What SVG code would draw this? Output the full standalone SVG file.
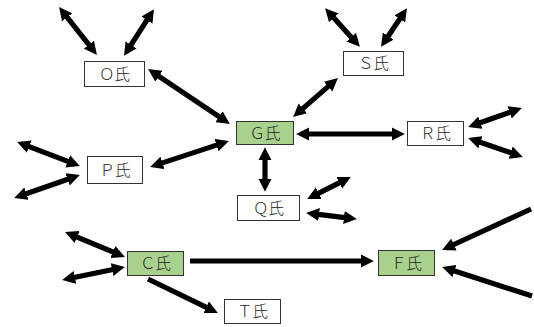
<svg xmlns="http://www.w3.org/2000/svg" width="534" height="327" viewBox="0 0 534 327">
<style>
.box{fill:#fff;stroke:#333;stroke-width:1}
.g{fill:#A9D18E}
.t{font-family:"Noto Sans CJK JP","Noto Sans CJK SC",sans-serif;font-size:15.5px;fill:#222;text-anchor:middle;font-weight:300}
.c line{stroke:#000;stroke-width:5.2;marker-end:url(#ah)}
.c line.d{marker-start:url(#ah)}
</style>
<defs>
<marker id="ah" viewBox="0 0 10 10" refX="5.5" refY="5" markerWidth="2.5" markerHeight="2.6" orient="auto-start-reverse" markerUnits="strokeWidth">
<path d="M0,0 L10,5 L0,10 z" fill="#000"/>
</marker>
</defs>
<rect width="534" height="327" fill="#fff"/>
<g class="c" id="connectors">
<line class="d" x1="62.7" y1="11.7" x2="93.3" y2="50.3"/>
<line class="d" x1="150.8" y1="14.1" x2="127.2" y2="50.9"/>
<line class="d" x1="153" y1="72.3" x2="225" y2="120.7"/>
<line class="d" x1="223.3" y1="142.9" x2="155.7" y2="165.1"/>
<line class="d" x1="22.6" y1="144.1" x2="74.4" y2="163.9"/>
<line class="d" x1="19.7" y1="196" x2="74.3" y2="177"/>
<line class="d" x1="329" y1="12.5" x2="356" y2="42.5"/>
<line class="d" x1="403.7" y1="13" x2="384.3" y2="42"/>
<line class="d" x1="333.5" y1="81.9" x2="297.5" y2="113.1"/>
<line class="d" x1="302" y1="134" x2="399" y2="134"/>
<line class="d" x1="473.7" y1="125" x2="516.3" y2="110"/>
<line class="d" x1="473.7" y1="140" x2="517.3" y2="155"/>
<line class="d" x1="265" y1="153" x2="265" y2="186"/>
<line class="d" x1="312.4" y1="196.3" x2="345.6" y2="179.7"/>
<line class="d" x1="312" y1="213.7" x2="351" y2="218.3"/>
<line class="d" x1="70.5" y1="234.3" x2="119.5" y2="254.7"/>
<line class="d" x1="67.9" y1="278.8" x2="119.1" y2="268.2"/>
<line x1="148" y1="279" x2="212.6" y2="310.4"/>
<line x1="190" y1="261" x2="368" y2="261"/>
<line x1="531" y1="209" x2="447.4" y2="247.5"/>
<line x1="532" y1="296" x2="447.7" y2="268.8"/>
</g>
<g id="O"><rect class="box" x="84.5" y="61.5" width="60" height="25"/><text class="t" x="114.5" y="79.5">Ｏ氏</text></g>
<g id="S"><rect class="box" x="343.5" y="51.5" width="60" height="24"/><text class="t" x="373.5" y="69">Ｓ氏</text></g>
<g id="G"><rect class="box g" x="236.5" y="121.5" width="57" height="23"/><text class="t" x="265" y="138.5">Ｇ氏</text></g>
<g id="R"><rect class="box" x="407.5" y="121.5" width="56" height="24"/><text class="t" x="435.5" y="139">Ｒ氏</text></g>
<g id="P"><rect class="box" x="87.5" y="156.5" width="55" height="27"/><text class="t" x="115" y="175.5">Ｐ氏</text></g>
<g id="Q"><rect class="box" x="237.5" y="195.5" width="62" height="25"/><text class="t" x="268.5" y="213.5">Ｑ氏</text></g>
<g id="C"><rect class="box g" x="127.5" y="251.5" width="56" height="24"/><text class="t" x="155.5" y="269">Ｃ氏</text></g>
<g id="F"><rect class="box g" x="378.5" y="250.5" width="56" height="25"/><text class="t" x="406.5" y="268.5">Ｆ氏</text></g>
<g id="T"><rect class="box" x="224.5" y="299.5" width="56" height="24"/><text class="t" x="252.5" y="317">Ｔ氏</text></g>
</svg>
